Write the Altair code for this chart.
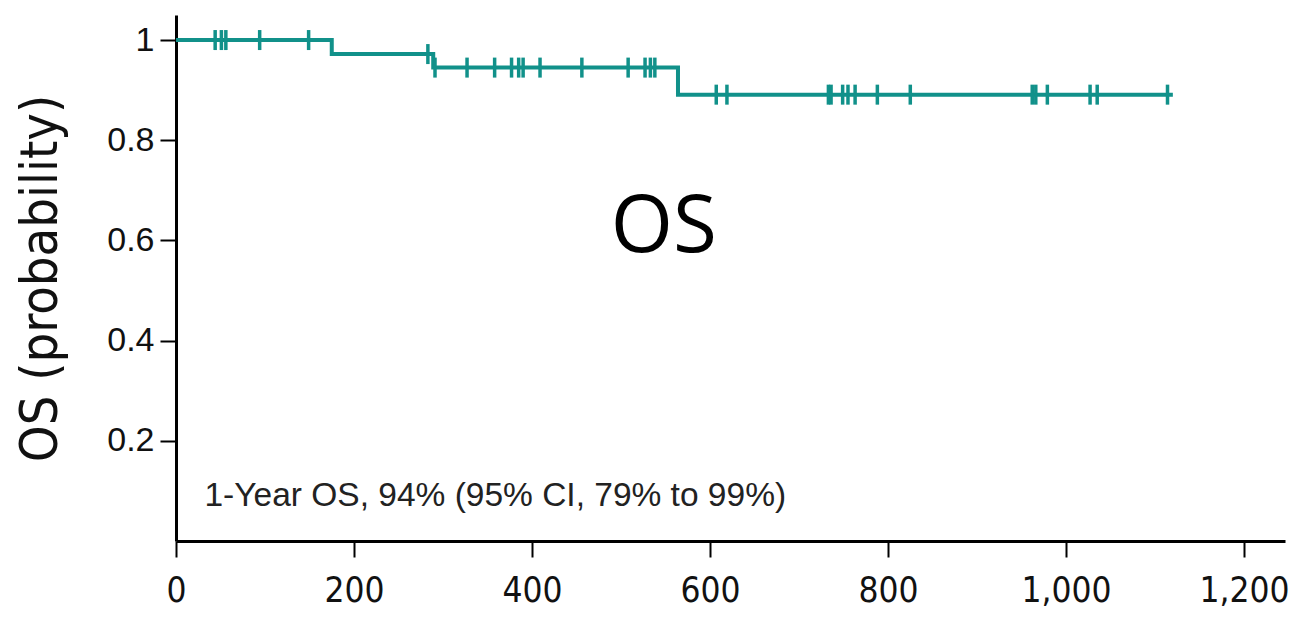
import altair as alt
import pandas as pd

# Kaplan-Meier overall survival: step curve (event times and survival levels)
event_days = [0, 175, 289, 564, 1120]
survival = [1.0, 0.972, 0.945, 0.891, 0.891]

# Censored observations (days)
censor_days = [44, 51, 56, 94, 149, 283, 291, 327, 358, 377, 385, 390, 409, 456,
               508, 527, 533, 538, 607, 619, 733, 736, 749, 755, 763, 788, 825,
               962, 966, 979, 1027, 1035, 1114]

x_ticks = [0, 200, 400, 600, 800, 1000, 1200]
y_ticks = [0.2, 0.4, 0.6, 0.8, 1.0]

TEAL = "#11918a"
CONDENSED = "Liberation Sans Narrow, DejaVu Sans Condensed, Liberation Sans, sans-serif"


def level_at(t):
    s = survival[0]
    for d, v in zip(event_days, survival):
        if t >= d:
            s = v
    return s


# the censor at 283 sits on the level before the drop at 289
curve = pd.DataFrame({"day": event_days, "os": survival})
censor = pd.DataFrame({"day": censor_days,
                       "os": [level_at(t) if t != 283 else 0.972 for t in censor_days]})

x_scale = alt.Scale(domain=[0, 1246], nice=False, zero=False)
y_scale = alt.Scale(domain=[0, 1.05], nice=False)

x_axis = alt.Axis(values=x_ticks, format=",.0f", title=None, grid=False,
                  domainColor="black", domainWidth=3, tickColor="black",
                  tickWidth=2, tickSize=16, labelFontSize=35,
                  labelFont=CONDENSED, labelColor="#111",
                  labelPadding=16, labelFlush=False)
y_axis = alt.Axis(values=y_ticks, format="~g", title="OS (probability)",
                  grid=False, domainColor="black", domainWidth=3,
                  tickColor="black", tickWidth=2, tickSize=16,
                  labelFontSize=34, labelFont="Liberation Sans",
                  labelColor="#111", labelPadding=6,
                  titleFont=CONDENSED, titleFontSize=52,
                  titleFontWeight="normal", titleColor="#111",
                  titleX=-136, titleY=263, titleAngle=-90,
                  titleBaseline="middle", titleAlign="center")

line = alt.Chart(curve).mark_line(
    interpolate="step-after", color=TEAL, strokeWidth=4
).encode(
    x=alt.X("day:Q", scale=x_scale, axis=x_axis),
    y=alt.Y("os:Q", scale=y_scale, axis=y_axis),
)

ticks = alt.Chart(censor).mark_tick(
    orient="vertical", color=TEAL, thickness=3.5, size=20, opacity=1
).encode(x=alt.X("day:Q", scale=x_scale), y=alt.Y("os:Q", scale=y_scale))

note = alt.Chart(pd.DataFrame({"day": [32], "os": [0.09],
                               "label": ["1-Year OS, 94% (95% CI, 79% to 99%)"]})
                 ).mark_text(align="left", baseline="middle", fontSize=33.5,
                             font="Liberation Sans", color="#222").encode(
    x=alt.X("day:Q", scale=x_scale), y=alt.Y("os:Q", scale=y_scale), text="label:N")

big = alt.Chart(pd.DataFrame({"day": [548], "os": [0.625], "label": ["OS"]})
                ).mark_text(align="center", baseline="middle", fontSize=80,
                            font="Open Sans", color="black").encode(
    x=alt.X("day:Q", scale=x_scale), y=alt.Y("os:Q", scale=y_scale), text="label:N")

chart = alt.layer(line, ticks, note, big).properties(
    width=1109, height=526,
    padding={"left": 176, "top": 15, "right": 20, "bottom": 80},
    autosize=alt.AutoSizeParams(type="none"),
    background="white",
).configure_view(stroke=None)

chart.save("out.html", embed_options={"renderer": "svg", "actions": False})
